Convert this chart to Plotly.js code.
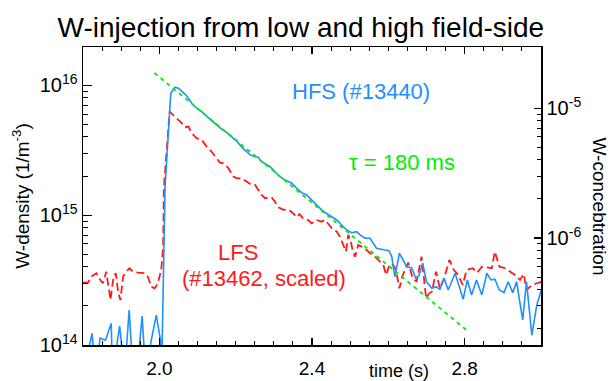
<!DOCTYPE html>
<html>
<head>
<meta charset="utf-8">
<script src="https://cdn.plot.ly/plotly-3.0.1.min.js"></script>
<style>html,body{margin:0;padding:0;background:#fff;}#chart{width:614px;height:381px;}</style>
</head>
<body>
<div id="chart"></div>
<script>
// ---- data (time in s, W-density in 1/m^3) ----
const timeHFS = [1.800, 1.824, 1.831, 1.845, 1.859, 1.874, 1.877, 1.896, 1.909, 1.921, 1.931, 1.941, 1.955, 1.964, 1.979, 1.992, 2.003, 2.006,
  2.015, 2.030, 2.041, 2.050, 2.063, 2.072, 2.085, 2.098, 2.111, 2.124,
  2.137, 2.150, 2.163, 2.177, 2.190, 2.204, 2.216, 2.229, 2.238, 2.251,
  2.259, 2.268, 2.277, 2.290, 2.303, 2.316, 2.329, 2.347, 2.360, 2.373,
  2.386, 2.403, 2.416, 2.425, 2.438, 2.452, 2.465, 2.478, 2.491, 2.504,
  2.517, 2.526, 2.539, 2.552, 2.561, 2.569, 2.591, 2.602, 2.609, 2.617,
  2.629, 2.639, 2.648, 2.661, 2.672, 2.681, 2.690, 2.700, 2.714, 2.725,
  2.735, 2.746, 2.757, 2.775, 2.796, 2.807, 2.818, 2.831, 2.845, 2.858,
  2.869, 2.879, 2.891, 2.903, 2.914, 2.926, 2.936, 2.952, 2.962, 2.976,
  2.989, 3.002];
const hfs = [6e13, 1.23e14, 6e13, 1.13e14, 1.09e14, 1.47e14, 6e13, 1.4e14, 6e13, 1.86e14, 6e13, 6e13, 1.67e14, 6e13, 1.09e14, 1.70e14, 1.09e14, 6e13,
  1.65e15, 8.69e15, 9.67e15, 9.5e15, 8.79e15, 8.28e15, 7.28e15, 6.66e15, 6.27e15, 5.74e15,
  5.35e15, 4.95e15, 4.59e15, 4.32e15, 4.03e15, 3.68e15, 3.34e15, 3.08e15, 2.91e15, 2.82e15,
  2.79e15, 2.58e15, 2.48e15, 2.36e15, 2.16e15, 1.98e15, 1.87e15, 1.76e15, 1.61e15, 1.49e15,
  1.43e15, 1.27e15, 1.18e15, 1.10e15, 1.03e15, 9.73e14, 9.18e14, 8.40e14, 7.69e14, 7.33e14,
  7.46e14, 7.04e14, 6.64e14, 6.64e14, 6.08e14, 5.56e14, 5.39e14, 5.33e14, 4.79e14, 3.36e14,
  5.09e14, 4.52e14, 4.01e14, 3.94e14, 3.26e14, 3.46e14, 4.26e14, 3.07e14, 2.73e14, 2.81e14,
  2.69e14, 3.26e14, 2.65e14, 3.57e14, 2.25e14, 3.17e14, 2.43e14, 3.17e14, 2.43e14, 3.57e14,
  3.17e14, 3.21e14, 2.65e14, 2.53e14, 3.07e14, 2.53e14, 3.07e14, 1.56e14, 3.07e14, 1.19e14,
  2.03e14, 2.73e14];

const timeLFS = [1.800, 1.813, 1.822, 1.835, 1.844, 1.852, 1.861, 1.872, 1.880, 1.886,
  1.892, 1.898, 1.905, 1.913, 1.922, 1.931, 1.944, 1.962, 1.970, 1.979,
  1.988, 1.996, 2.005, 2.010,
  2.012, 2.027, 2.045, 2.059, 2.067, 2.076, 2.085, 2.098, 2.111, 2.124,
  2.137, 2.150, 2.159, 2.168, 2.181, 2.194, 2.203, 2.216, 2.229, 2.242,
  2.251, 2.268, 2.277, 2.294, 2.303, 2.312, 2.325, 2.338, 2.351, 2.360,
  2.367, 2.377, 2.390, 2.399, 2.412, 2.425, 2.434, 2.443, 2.452, 2.465,
  2.473, 2.482, 2.489, 2.495, 2.501, 2.507, 2.513, 2.521, 2.530, 2.543,
  2.552, 2.565, 2.578, 2.587, 2.594, 2.600, 2.604, 2.613, 2.620, 2.629,
  2.638, 2.652, 2.664, 2.674, 2.687, 2.699, 2.707, 2.714, 2.725, 2.735,
  2.746, 2.760, 2.772, 2.783, 2.795, 2.805, 2.821, 2.833, 2.845, 2.858,
  2.871, 2.879, 2.891, 2.906, 2.921, 2.932, 2.945, 2.955, 2.962, 2.976,
  2.989, 3.002];
const lfs = [3.02e14, 3.02e14, 3.36e14, 3.57e14, 3.21e14, 2.99e14, 3.67e14, 2.22e14, 3.36e14, 3.57e14,
  2.57e14, 2.22e14, 3.36e14, 3.67e14, 3.90e14, 3.67e14, 3.61e14, 3.57e14, 3.36e14, 2.81e14,
  2.73e14, 2.99e14, 3.78e14, 5.72e14,
  1.66e15, 6.27e15, 5.58e15, 5.11e15, 4.75e15, 4.81e15, 4.28e15, 3.91e15, 3.80e15, 3.37e15,
  3.08e15, 2.74e15, 2.54e15, 2.51e15, 2.30e15, 1.98e15, 1.92e15, 1.92e15, 1.81e15, 1.71e15,
  1.71e15, 1.43e15, 1.35e15, 1.37e15, 1.27e15, 1.15e15, 1.10e15, 1.11e15, 1.03e15, 9.64e14,
  1.02e15, 9.46e14, 9.18e14, 8.66e14, 9.18e14, 8.91e14, 9.18e14, 8.55e14, 7.93e14, 7.46e14,
  6.83e14, 5.89e14, 5.24e14, 7.04e14, 6.44e14, 5.24e14, 4.79e14, 5.89e14, 5.72e14, 5.39e14,
  5.09e14, 4.79e14, 4.38e14, 4.13e14, 3.46e14, 4.01e14, 4.21e14, 4.13e14, 3.78e14, 2.73e14,
  3.46e14, 4.31e14, 3.26e14, 3.07e14, 4.79e14, 2.29e14, 2.50e14, 2.57e14, 3.67e14, 2.73e14,
  3.26e14, 4.52e14, 3.78e14, 3.46e14, 2.90e14, 3.78e14, 3.90e14, 3.61e14, 4.01e14, 3.96e14,
  3.90e14, 5.24e14, 4.01e14, 3.90e14, 3.61e14, 3.46e14, 3.17e14, 3.52e14, 2.65e14, 2.90e14,
  2.99e14, 3.07e14];

// exponential fit, tau = 180 ms (end points)
const timeFit = [1.987, 2.811];
const fit = [1.246e16, 1.26e14];

// tick labels
const xTickVals = [2.0, 2.4, 2.8];
const xTickText = ['2.0', '2.4', '2.8'];
const yTickVals = [1e14, 1e15, 1e16];
const yTickText = ['10<sup>14</sup>', '10<sup>15</sup>', '10<sup>16</sup>'];
const y2TickVals = [1e-6, 1e-5];
const y2TickText = ['10<sup>-6</sup>', '10<sup>-5</sup>'];

// minor tick positions
const yMinor = [];
[1e14, 1e15].forEach(d => { for (let k = 2; k <= 9; k++) yMinor.push(k * d); });
const y2Minor = [];
[1e-7, 1e-6].forEach(d => { for (let k = 2; k <= 9; k++) y2Minor.push(k * d); });

const FONT = 'Liberation Sans, Arial, Helvetica, sans-serif';
const BLUE = '#1e90ff', RED = '#ff1a1a', GREEN = '#00ee00';

const traces = [
  { x: timeLFS, y: lfs, type: 'scatter', mode: 'lines', name: 'LFS (#13462, scaled)',
    line: { color: RED, width: 1.8, dash: '8px,4px' }, hoverinfo: 'skip' },
  { x: timeHFS, y: hfs, type: 'scatter', mode: 'lines', name: 'HFS (#13440)',
    line: { color: BLUE, width: 1.6 }, hoverinfo: 'skip' },
  { x: timeFit, y: fit, type: 'scatter', mode: 'lines', name: 'fit',
    line: { color: GREEN, width: 1.8, dash: '4px,4px' }, hoverinfo: 'skip' },
  { x: [], y: [], type: 'scatter', mode: 'lines', yaxis: 'y2', showlegend: false, hoverinfo: 'skip' }
];

const yLo = 14, yHi = 16.295;           // log10 range of density axis
const y2Lo = -6.824, y2Hi = -4.529;     // log10 range of concentration axis

const layout = {
  width: 614, height: 381,
  margin: { l: 83, r: 73, t: 47, b: 36 },
  paper_bgcolor: '#fff', plot_bgcolor: '#fff',
  showlegend: false,
  font: { family: FONT, size: 19, color: '#000' },
  title: { text: 'W-injection from low and high field-side', font: { family: FONT, size: 28, color: '#000' },
           xref: 'container', x: 0.49, xanchor: 'center', yref: 'container', y: 0.928, yanchor: 'middle' },
  xaxis: {
    range: [1.8, 3.0], showgrid: false, zeroline: false,
    showline: true, linecolor: '#000', linewidth: 1.5, mirror: 'ticks',
    tickmode: 'array', tickvals: xTickVals, ticktext: xTickText,
    ticks: 'inside', ticklen: 7, tickwidth: 1.2, tickcolor: '#000',
    tickfont: { family: FONT, size: 19, color: '#000' }, ticklabelstandoff: 6,
    minor: { tickmode: 'linear', tick0: 1.8, dtick: 0.05, ticks: 'inside', ticklen: 4, tickwidth: 1, tickcolor: '#000', showgrid: false }
  },
  yaxis: {
    type: 'log', range: [yLo, yHi], showgrid: false, zeroline: false,
    showline: true, linecolor: '#000', linewidth: 1.5, mirror: true,
    tickmode: 'array', tickvals: yTickVals, ticktext: yTickText,
    ticks: 'inside', ticklen: 9, tickwidth: 1.2, tickcolor: '#000',
    tickfont: { family: FONT, size: 20, color: '#000' },
    minor: { tickmode: 'array', tickvals: yMinor, ticks: 'inside', ticklen: 5, tickwidth: 1, tickcolor: '#000', showgrid: false },
    title: { text: 'W-density (1/m<sup>-3</sup>)', font: { family: FONT, size: 19, color: '#000' }, standoff: 5 }
  },
  yaxis2: {
    type: 'log', range: [y2Lo, y2Hi], overlaying: 'y', side: 'right', showgrid: false, zeroline: false,
    showline: true, linecolor: '#000', linewidth: 1.5,
    tickmode: 'array', tickvals: y2TickVals, ticktext: y2TickText,
    ticks: 'inside', ticklen: 7, tickwidth: 1.2, tickcolor: '#000',
    tickfont: { family: FONT, size: 20, color: '#000' },
    minor: { tickmode: 'array', tickvals: y2Minor, ticks: 'inside', ticklen: 4, tickwidth: 1, tickcolor: '#000', showgrid: false }
  },
  shapes: [
    { type: 'line', xref: 'x', yref: 'y', x0: 2.371, y0: 15.795, x1: 2.261, y1: 15.579, line: { color: '#000', width: 1 } },
    { type: 'line', xref: 'x', yref: 'y', x0: 2.185, y0: 15.248, x1: 2.217, y1: 14.863, line: { color: '#000', width: 1 } }
  ],
  annotations: [
    { text: 'HFS (#13440)', xref: 'x', yref: 'y', x: 2.528, y: 15.949, showarrow: false, font: { family: FONT, size: 22, color: BLUE } },
    { text: 'τ = 180 ms', xref: 'x', yref: 'y', x: 2.636, y: 15.402, showarrow: false, font: { family: FONT, size: 22, color: GREEN } },
    { text: 'LFS', xref: 'x', yref: 'y', x: 2.206, y: 14.716, showarrow: false, font: { family: FONT, size: 22, color: RED } },
    { text: '(#13462, scaled)', xref: 'x', yref: 'y', x: 2.274, y: 14.516, showarrow: false, font: { family: FONT, size: 22, color: RED } },
    { text: 'time (s)', xref: 'paper', yref: 'paper', x: 0.690, y: -0.086, xanchor: 'center', yanchor: 'middle', showarrow: false, font: { family: FONT, size: 18, color: '#000' } },
    { text: 'W-concebtration', xref: 'paper', yref: 'paper', x: 1.128, y: 0.466, xanchor: 'center', yanchor: 'middle', textangle: 90, showarrow: false, font: { family: FONT, size: 19, color: '#000' } }
  ]
};

Plotly.newPlot('chart', traces, layout, { displayModeBar: false, staticPlot: true });
</script>
</body>
</html>
